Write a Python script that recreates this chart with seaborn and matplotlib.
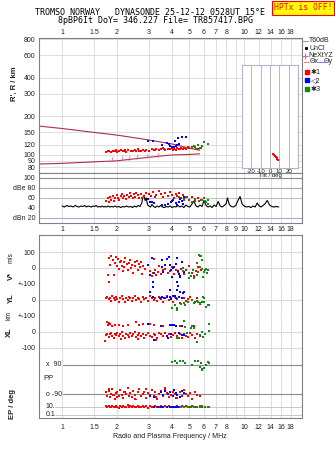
import numpy as np
import pandas as pd
import matplotlib
matplotlib.use('Agg')
import matplotlib.pyplot as plt
from matplotlib.ticker import NullLocator
import seaborn as sns

# ---------------- data ----------------
TOP_TICKS = [1, 1.5, 2, 3, 4, 5, 6, 7, 8, 10, 12, 14, 16, 18]
MID_TICKS = [1, 1.5, 2, 3, 4, 5, 6, 7, 8, 9, 10, 12, 14, 16, 18]
H_TICKS = [80, 90, 100, 120, 150, 200, 300, 400, 600, 800]
DB_TICKS = [100, 80, 60, 40, 20]
DB_LABELS = ['100', 'dBe 80', '60', '40', 'dBn 20']

THETA_X = [(0.75, 168), (1.0, 161), (1.5, 150), (2.0, 143), (3.0, 131), (4.0, 122), (5.0, 113), (5.7, 109)]
THETA_Y = [(0.75, 85), (1.0, 86), (2.0, 90), (3.0, 96), (4.0, 100), (5.0, 101), (5.7, 102)]
NEXTYZ = [(1.88, 93), (2.14, 94.2), (2.33, 94.7), (2.59, 96.5), (2.94, 97.7), (3.38, 100)]
UNCL = [(3.17, 106), (5.38, 109), (4.2, 117)]

H_RED = [(1.75, 106), (1.8, 107), (1.85, 105), (1.9, 108), (1.95, 107), (2.0, 106), (2.05, 108), (2.1, 109),
         (2.15, 107), (2.2, 108), (2.25, 106), (2.3, 110), (2.4, 108), (2.45, 107), (2.5, 109), (2.6, 111),
         (2.65, 108), (2.7, 107), (2.8, 110), (2.9, 109), (3.0, 108), (3.1, 111), (3.2, 110), (3.3, 112),
         (3.4, 109), (3.5, 111), (3.6, 113), (3.7, 110), (3.8, 112), (3.9, 111), (4.0, 113), (4.1, 112),
         (4.2, 110), (4.3, 113), (4.4, 112), (4.5, 114), (4.6, 111), (4.7, 113), (4.8, 112), (5.0, 114),
         (5.2, 113), (5.4, 115), (5.6, 112), (5.8, 113), (1.78, 108), (1.98, 109), (2.22, 110), (2.55, 107),
         (2.85, 108), (3.25, 109), (3.65, 111), (4.05, 110), (4.45, 111), (4.9, 115)]
H_BLUE = [(2.97, 128), (3.16, 128), (3.54, 120), (3.78, 124), (4.17, 128), (4.33, 136), (4.56, 138),
          (4.79, 139), (3.9, 118), (4.0, 116), (4.1, 115), (4.2, 117), (4.3, 120), (4.4, 121), (3.85, 121)]
H_GREEN = [(5.18, 115), (5.44, 111), (5.58, 120), (5.73, 113), (6.03, 126), (6.33, 122), (5.3, 117), (5.9, 118)]
TILT_RED = [(2.8, 101.8), (4.0, 100.0), (5.0, 98.5), (6.0, 97.0), (7.0, 95.0), (8.0, 93.0), (8.5, 91.4)]

NOISE = [(1.00, 44), (1.03, 42), (1.06, 45), (1.09, 43), (1.12, 44), (1.15, 42), (1.18, 45), (1.21, 43),
         (1.24, 42), (1.27, 44), (1.30, 43), (1.33, 45), (1.36, 42), (1.39, 44), (1.42, 43), (1.45, 42),
         (1.48, 44), (1.51, 43), (1.54, 45), (1.57, 42), (1.60, 43), (1.63, 42), (1.66, 44), (1.69, 42),
         (1.72, 43), (1.75, 42), (1.79, 44), (1.83, 42), (1.87, 43), (1.91, 42), (1.95, 44), (2.00, 42),
         (2.05, 43), (2.10, 41), (2.15, 43), (2.20, 42), (2.26, 44), (2.32, 42), (2.38, 43), (2.44, 41),
         (2.50, 44), (2.56, 42), (2.62, 45), (2.68, 43), (2.74, 50), (2.78, 62), (2.82, 66), (2.86, 55),
         (2.90, 60), (2.95, 46), (3.00, 44), (3.06, 42), (3.12, 47), (3.18, 43), (3.25, 41), (3.32, 44),
         (3.40, 42), (3.48, 45), (3.56, 42), (3.65, 41), (3.74, 43), (3.83, 42), (3.92, 44), (4.02, 41),
         (4.12, 43), (4.22, 42), (4.33, 45), (4.44, 42), (4.55, 44), (4.67, 41), (4.79, 46), (4.91, 43),
         (5.04, 42), (5.17, 48), (5.30, 54), (5.44, 44), (5.58, 42), (5.72, 46), (5.87, 43), (6.02, 55),
         (6.18, 45), (6.34, 42), (6.50, 44), (6.67, 41), (6.84, 46), (7.02, 43), (7.20, 53), (7.39, 44),
         (7.58, 42), (7.78, 45), (7.98, 49), (8.10, 60), (8.30, 47), (8.50, 43), (8.75, 42), (9.00, 45),
         (9.25, 55), (9.50, 63), (9.75, 48), (10.0, 44), (10.3, 42), (10.6, 43), (10.9, 41), (11.2, 44),
         (11.5, 42), (11.8, 50), (12.1, 44), (12.4, 42), (12.7, 45), (13.0, 48), (13.4, 55), (13.8, 46),
         (14.2, 43), (14.6, 42), (15.0, 43), (15.5, 42)]
DB_RED = [(1.75, 55), (1.78, 60), (1.8, 52), (1.83, 62), (1.86, 57), (1.9, 64), (1.93, 55), (1.96, 61),
          (2.0, 66), (2.03, 60), (2.06, 56), (2.1, 65), (2.13, 68), (2.16, 60), (2.2, 64), (2.24, 58),
          (2.28, 67), (2.32, 62), (2.36, 70), (2.4, 65), (2.44, 60), (2.48, 68), (2.52, 63), (2.56, 70),
          (2.6, 66), (2.65, 61), (2.7, 68), (2.75, 60), (2.82, 65), (2.9, 70), (3.0, 68), (3.08, 64),
          (3.15, 72), (3.22, 62), (3.3, 66), (3.4, 75), (3.5, 68), (3.6, 63), (3.7, 71), (3.8, 65),
          (3.9, 73), (4.0, 67), (4.1, 61), (4.2, 69), (4.3, 64), (4.4, 71), (4.5, 60), (4.6, 66),
          (4.7, 58), (4.85, 63), (5.0, 57), (5.2, 62), (5.4, 55), (5.6, 60), (5.8, 56)]
DB_BLUE = [(2.96, 59), (3.04, 53), (3.1, 53), (3.2, 50), (3.53, 47), (3.67, 46), (3.8, 49), (3.95, 53),
           (4.0, 54), (4.09, 56), (4.2, 50), (4.3, 47), (4.4, 52), (4.45, 59), (4.55, 55), (4.7, 63), (4.6, 49)]
DB_GREEN = [(4.37, 63), (4.7, 56), (4.8, 62), (5.15, 53), (5.35, 58), (5.65, 54), (5.9, 57), (6.1, 54),
            (6.3, 56), (6.3, 49), (6.0, 60), (6.2, 52)]

LOW_F = [1.74, 1.77, 1.8, 1.83, 1.86, 1.89, 1.92, 1.95, 1.98, 2.01, 2.05, 2.09, 2.13, 2.17, 2.21, 2.25,
         2.29, 2.33, 2.37, 2.41, 2.46, 2.51, 2.56, 2.61, 2.66, 2.71, 2.77, 2.83, 2.9, 2.97, 3.04, 3.11,
         3.18, 3.25, 3.33, 3.41, 3.5, 3.59, 3.68, 3.77, 3.87, 3.97, 4.08, 4.19, 4.3, 4.42, 4.54, 4.66,
         4.79, 4.92, 5.06, 5.2, 5.35, 5.5, 5.7]

V_RED = [(1.78, -45), (1.80, 65), (1.82, -88), (1.84, 20), (1.86, 75), (1.90, 50), (1.92, -45), (1.95, 30),
         (1.98, 70), (2.00, 10), (2.03, 55), (2.05, -5), (2.08, 35), (2.10, 45), (2.13, 15), (2.15, -20),
         (2.18, 40), (2.20, 5), (2.23, 60), (2.26, 25), (2.30, -10), (2.33, 30), (2.36, 50), (2.40, 0),
         (2.43, 20), (2.46, -30), (2.50, 35), (2.53, 10), (2.57, 45), (2.60, -15), (2.64, 25), (2.68, 5),
         (2.72, 40), (2.76, -40), (2.80, 15), (2.85, -5), (3.05, -20), (3.10, -50), (3.15, -30), (3.20, 55),
         (3.25, -10), (3.30, -45), (3.35, -25), (3.40, 10), (3.50, -35), (3.60, -15), (3.70, -5), (3.80, -30),
         (3.90, -20), (4.00, 5), (4.10, -40), (4.20, -10), (4.35, -25), (4.50, -5), (4.65, -35), (4.80, -15),
         (5.00, 15), (5.15, -30), (5.30, -50), (5.45, -20), (5.60, 5), (5.80, -10)]
V_BLUE = [(2.96, 19), (3.04, -44), (3.1, 63), (3.17, -85), (3.2, -31), (3.53, 8), (3.53, 50), (3.67, 17),
          (3.75, 56), (3.85, 70), (3.93, 17), (3.97, -12), (4.02, -58), (4.09, -2), (4.13, 8), (4.25, 25),
          (4.27, 60), (4.35, -17), (4.45, -50), (4.45, -54), (4.58, 40), (4.68, -25), (4.4, -35), (4.3, -85),
          (3.6, -25)]
V_GREEN = [(4.6, 0), (4.6, -21), (4.95, -33), (5.1, -52), (5.26, -12), (5.28, -60), (5.5, -44), (5.5, 29),
           (5.58, -23), (5.67, 81), (5.73, 77), (5.74, 8), (5.8, 73), (5.85, 52), (5.9, -4), (6.0, -25),
           (6.1, -10), (6.2, -4), (6.35, -12), (5.95, -54), (4.95, -65), (6.25, -33)]

YL_RED = [10, 20, 5, 15, -5, 25, 10, 0, 18, 8, -10, 12, 22, 5, -15, 15, 2, 20, 10, -5, 12, 25, 0, 15, 8,
          -12, 18, 5, 10, -8, 22, 12, 0, 15, -5, 20, 8, -15, 10, 25, 0, 12, -10, 18, 5, -20, 10, 15, -5, 8,
          20, 0, -15, 10, -25]
YL_BLUE = [(3.04, 52), (3.17, 21), (3.45, 15), (3.53, 21), (3.65, 12), (3.75, 20), (3.9, 18), (3.95, 5),
           (4.05, 25), (4.15, 28), (4.25, 10), (4.3, 60), (4.4, 20), (4.45, 52), (4.55, 15), (4.65, 52),
           (3.15, 80), (3.9, 65), (4.35, 85), (4.6, 45)]
YL_GREEN = [(4.0, -52), (4.27, -62), (4.17, -31), (4.3, -50), (4.53, -25), (4.69, -21), (4.75, -31),
            (5.15, 0), (5.3, -21), (5.5, -4), (5.75, -18), (5.9, -10), (5.98, 21), (6.05, -10), (6.35, -31),
            (6.44, -31), (6.0, 10), (5.6, -12), (4.9, -15), (6.2, -45)]

XL_RED = [-20, -10, -30, -15, -5, -25, -35, -12, -20, -8, -28, -15, -3, -22, -40, -10, -18, -30, -6, -25,
          -14, -2, -32, -18, -9, -26, -12, -38, -16, -4, -22, -30, -10, -20, -35, -8, -15, -28, -5, -24,
          -12, -33, -18, -6, -27, -14, -40, -10, -22, -30, -8, -18, -35, -12, -25]
XL_RED_EXTRA = [(1.76, 64), (1.78, 45), (1.8, 55), (1.84, 48), (1.88, 40), (1.95, 44), (2.05, 42),
                (2.15, 38), (2.3, 45), (2.55, 60), (2.65, 42), (2.8, 48), (3.05, 50), (3.2, 42), (3.6, 38),
                (4.45, 35), (5.3, 38), (1.72, -55), (2.1, -45), (3.3, -48), (2.6, -42)]
XL_BLUE = [(2.98, 50), (3.18, -50), (3.5, 40), (3.75, -25), (3.8, -40), (3.9, 44), (4.0, 46), (4.1, 44),
           (4.3, -35), (4.55, 35), (4.55, -19), (4.2, 40), (3.95, -10), (4.4, -5), (4.7, -20)]
XL_GREEN = [(4.67, 71), (4.75, 33), (5.1, 23), (5.3, 28), (5.75, -19), (5.95, -29), (5.5, -60), (4.3, -35),
            (4.4, -40), (6.45, 52), (6.45, 8), (5.85, 0), (4.85, -5), (5.2, 40), (6.1, -15)]

PP_RED = [-80, -100, -70, -110, -90, -60, -95, -120, -85, -75, -105, -65, -95, -115, -80, -90, -55, -100,
          -85, -110, -70, -95, -125, -80, -60, -100, -90, -75, -115, -85, -95, -65, -105, -80, -120, -90,
          -70, -100, -60, -85, -110, -95, -75, -90, -115, -80, -100, -65, -90, -105, -85, -120, -75, -95, -100]
PP_RED_EXTRA = [(1.8, -60), (2.0, -110), (2.3, -55), (2.5, -120), (2.9, -60), (3.3, -110), (3.7, -55),
                (4.2, -115), (1.9, -95), (2.2, -80)]
PP_BLUE = [(3.04, -100), (3.2, -110), (3.5, -75), (3.67, -70), (3.8, -90), (3.93, -80), (4.05, -100),
           (4.13, -65), (4.3, -95), (4.45, -110), (4.58, -70), (4.7, -85), (3.6, -95), (4.2, -85)]
PP_GREEN = [(4.0, 110), (4.17, 115), (4.3, 105), (4.45, 117), (4.64, 115), (4.75, 103), (5.15, 90),
            (5.35, 115), (5.55, 115), (5.6, 117), (5.8, 100), (5.75, 80), (5.9, 65), (6.0, 70), (6.2, 90),
            (6.35, 110), (6.45, 104), (5.85, 61)]

EP_RED = [12, 8, 15, 10, 9, 18, 11, 7, 14, 10, 6, 13, 9, 16, 11, 8, 20, 10, 12, 7, 15, 9, 11, 14, 8, 10,
          17, 9, 12, 6, 13, 10, 8, 15, 11, 9, 12, 7, 14, 10, 16, 9, 11, 8, 13, 10, 12, 7, 15, 9, 11, 14, 8,
          10, 12]
EP_RED_EXTRA = [(5.9, 10), (6.1, 9), (6.3, 11)]
EP_BLUE = [(3.2, 9), (3.35, 8), (3.5, 7), (3.6, 9), (3.75, 8), (3.9, 10), (4.0, 7), (4.1, 9), (4.2, 8),
           (4.35, 10), (4.5, 7), (4.65, 9)]
EP_GREEN = [(4.5, 9), (4.7, 10), (4.9, 8), (5.1, 10), (5.3, 9), (5.5, 11), (5.75, 10), (5.9, 12),
            (6.1, 9), (6.3, 11), (6.45, 10)]

# ---------------- style ----------------
sns.set_style('white')
plt.rcParams['font.family'] = ['Liberation Sans', 'DejaVu Sans']

RED, BLUE, GREEN = '#ff0000', '#0000ff', '#108a10'
GRID = '#d8d8d8'
SPINE = '#808080'
TXT = '#202020'
W, H = 335, 451
FLO, FHI = 0.747, 20.8
MS = 4.6

fig = plt.figure(figsize=(W / 100, H / 100), dpi=100)


def pax(x0, y0, x1, y1, z=1):
    return fig.add_axes([x0 / W, 1 - y1 / H, (x1 - x0) / W, (y1 - y0) / H], zorder=z)


def base(ax, spines=('left', 'right', 'top', 'bottom')):
    ax.set_xscale('log')
    ax.set_xlim(FLO, FHI)
    ax.xaxis.set_minor_locator(NullLocator())
    ax.set_xticks([])
    for s in ax.spines:
        ax.spines[s].set_visible(s in spines)
        ax.spines[s].set_color(SPINE)
        ax.spines[s].set_linewidth(0.8)
    for f in MID_TICKS:
        ax.axvline(f, color=GRID, lw=0.6, zorder=0)
    ax.tick_params(axis='both', length=0, labelsize=5, colors=TXT, pad=2.5)
    ax.set_facecolor('white')


def pts(ax, pairs, color, s=MS, marker='s'):
    df = pd.DataFrame(pairs, columns=['f', 'v'])
    sns.scatterplot(data=df, x='f', y='v', ax=ax, color=color, marker=marker, s=s,
                    linewidth=0, legend=False, zorder=3, clip_on=False)
    ax.set_xlabel('')
    ax.set_ylabel('')


# ---------- height panel ----------
axh = pax(39, 38, 302, 173)
base(axh)
axh.set_yscale('log')
axh.set_ylim(72.3, 820)
axh.yaxis.set_minor_locator(NullLocator())
axh.set_yticks(H_TICKS)
axh.set_yticklabels([str(t) for t in H_TICKS])
for t in H_TICKS:
    axh.axhline(t, color=GRID, lw=0.6, zorder=0)
axh.xaxis.tick_top()
axh.set_xticks(TOP_TICKS)
axh.set_xticklabels([f'{t:g}' for t in TOP_TICKS])
axh.tick_params(axis='x', pad=1.5)
for d in (THETA_X, THETA_Y):
    df = pd.DataFrame(d, columns=['f', 'h'])
    sns.lineplot(data=df, x='f', y='h', ax=axh, color='#a8304c', lw=0.8, sort=False, estimator=None, zorder=2)
pts(axh, H_RED, RED)
pts(axh, H_BLUE, BLUE)
pts(axh, H_GREEN, GREEN)
pts(axh, NEXTYZ, '#e0609a', s=14, marker='$I$')
pts(axh, UNCL, 'black', s=10, marker='x')
axh.set_xlabel('')
axh.set_ylabel('')

# tilt inset
axt = pax(242, 65, 298, 168, z=3)
axt.set_yscale('log')
axt.set_ylim(79.1, 505)
axt.set_xlim(-30, 30)
axt.set_yticks([])
axt.yaxis.set_minor_locator(NullLocator())
for s in axt.spines.values():
    s.set_color('#b4b4cc')
    s.set_linewidth(0.8)
for t in (-20, -10, 0, 10, 20):
    axt.axvline(t, color='#b4b4cc', lw=0.7, zorder=0)
axt.set_xticks([-20, -10, 0, 10, 20])
axt.set_xticklabels(['-20', '-10', '0', '10', '20'])
axt.tick_params(axis='x', length=0, labelsize=4.3, pad=0.5, colors=TXT)
df = pd.DataFrame(TILT_RED, columns=['t', 'h'])
sns.scatterplot(data=df, x='t', y='h', ax=axt, color=RED, marker='s', s=MS, linewidth=0, legend=False)
axt.set_ylabel('')
axt.set_xlabel('Tilt / deg', fontsize=4.3, labelpad=-0.5, color=TXT)

# ---------- dB panel ----------
axd = pax(39, 173, 302, 223)
base(axd)
axd.set_ylim(10, 110)
axd.set_yticks(DB_TICKS)
axd.set_yticklabels(DB_LABELS)
axd.axhline(100, color='#8a8a8a', lw=0.8, zorder=1)
axd.axhline(80, color='#a8a8a8', lw=0.8, zorder=1)
axd.axhline(60, color='#c0c0c0', lw=0.8, zorder=1)
axd.axhline(20, color='#a8a8e0', lw=0.8, zorder=1)
axd.set_xticks(MID_TICKS)
axd.set_xticklabels([f'{t:g}' for t in MID_TICKS])
axd.tick_params(axis='x', pad=2)
dfn = pd.DataFrame(NOISE, columns=['f', 'db'])
sns.lineplot(data=dfn, x='f', y='db', ax=axd, color='black', lw=0.8, sort=False, estimator=None, zorder=2)
pts(axd, DB_RED, RED)
pts(axd, DB_BLUE, BLUE)
pts(axd, DB_GREEN, GREEN)
axd.set_xlabel('')
axd.set_ylabel('')

# ---------- lower panel ----------
axv = pax(39, 235, 302, 284)
base(axv, ('left', 'right', 'top'))
axv.set_ylim(-100, 206.25)
axv.set_yticks([100, 0, -100])
axv.set_yticklabels(['100', '0', '+-100'])
for t in (100, 0, -100):
    axv.axhline(t, color=GRID, lw=0.7, zorder=0)
pts(axv, V_RED, RED)
pts(axv, V_BLUE, BLUE)
pts(axv, V_GREEN, GREEN)

axy = pax(39, 284, 302, 316)
base(axy, ('left', 'right'))
axy.set_ylim(-100, 100)
axy.set_yticks([0, -100])
axy.set_yticklabels(['0', '+-100'])
for t in (0, -100):
    axy.axhline(t, color=GRID, lw=0.7, zorder=0)
pts(axy, list(zip(LOW_F, YL_RED)), RED)
pts(axy, YL_BLUE, BLUE)
pts(axy, YL_GREEN, GREEN)

axx = pax(39, 316, 302, 356)
base(axx, ('left', 'right'))
axx.set_ylim(-150, 100)
axx.set_yticks([0, -100])
axx.set_yticklabels(['0', '-100'])
for t in (0, -100):
    axx.axhline(t, color=GRID, lw=0.7, zorder=0)
pts(axx, list(zip(LOW_F, XL_RED)) + XL_RED_EXTRA, RED)
pts(axx, XL_BLUE, BLUE)
pts(axx, XL_GREEN, GREEN)

axp = pax(39, 356, 302, 400)
base(axp, ('left', 'right'))
axp.set_ylim(-127.2, 145.9)
axp.set_yticks([])
for t in (90, -90):
    axp.axhline(t, xmin=0.092, xmax=1, color='#8a8a8a', lw=0.8, zorder=1)
pts(axp, list(zip(LOW_F, PP_RED)) + PP_RED_EXTRA, RED)
pts(axp, PP_BLUE, BLUE)
pts(axp, PP_GREEN, GREEN)

axe = pax(39, 400, 302, 418)
base(axe, ('left', 'right', 'bottom'))
axe.set_yscale('log')
axe.set_ylim(0.019, 411)
axe.yaxis.set_minor_locator(NullLocator())
axe.set_yticks([])
for t in (10, 0.1):
    axe.axhline(t, xmin=0.062, xmax=1, color='#c8c8c8', lw=0.7, zorder=0)
pts(axe, list(zip(LOW_F, EP_RED)) + EP_RED_EXTRA, RED)
pts(axe, EP_BLUE, BLUE)
pts(axe, EP_GREEN, GREEN)
axe.set_xticks(TOP_TICKS)
axe.set_xticklabels([f'{t:g}' for t in TOP_TICKS])
axe.tick_params(axis='x', pad=4)

# ---------- overlay for free text / legend ----------
ov = fig.add_axes([0, 0, 1, 1], zorder=10)
ov.set_xlim(0, W)
ov.set_ylim(H, 0)
ov.axis('off')
ov.patch.set_alpha(0)

mono = 'DejaVu Sans Mono'
ov.text(150, 12.5, 'TROMSO NORWAY   DYNASONDE 25-12-12 0528UT 15\u00b0E', family=mono, fontsize=6,
        ha='center', va='center', color='black')
ov.text(155, 20.5, '8pBP6It DoY= 346.227 File= TR857417.BPG', family=mono, fontsize=6,
        ha='center', va='center', color='black')
ov.text(303, 8, 'HPTx is OFF!', family=mono, fontsize=5.8, ha='center', va='center', color='#ff0000',
        bbox=dict(boxstyle='square,pad=0.25', fc='#ffff00', ec='#ff0000', lw=0.8))

lab = dict(fontsize=5.5, fontweight='bold', color=TXT, rotation=90, ha='center', va='center')
ov.text(14, 84, "R', R / km", **lab)
ov.text(11, 276, 'V*', **lab)
ov.text(11, 258, 'm/s', fontsize=4.8, color=TXT, rotation=90, ha='center', va='center')
ov.text(11, 298, 'YL', **lab)
ov.text(9, 315, 'km', fontsize=4.8, color=TXT, rotation=90, ha='center', va='center')
ov.text(9, 332, 'XL', **lab)
ov.text(13, 404, 'EP / deg', **lab)
inner = dict(fontsize=5, color=TXT, ha='left', va='center')
ov.text(46.5, 365, 'x  90', **inner)
ov.text(43, 379, 'PP', fontsize=5.5, color=TXT, ha='left', va='center')
ov.text(46, 394, 'o -90', **inner)
ov.text(45, 407, '10.', **inner)
ov.text(46, 415, '0.1', **inner)
ov.text(170, 437, 'Radio and Plasma Frequency / MHz', fontsize=5, color=TXT, ha='center', va='center')

# legend
lg = dict(fontsize=5, color=TXT, ha='left', va='center')
ov.plot([302.5, 308], [40.7, 40.7], color='#a0a0a0', lw=0.8)
ov.text(309, 40.7, 'T60dB', **lg)
ov.plot([306], [48.3], marker='s', ms=1.2, color='black', lw=0)
ov.text(310, 48.3, 'UnCl', **lg)
ov.plot([304.5], [55.7], marker='+', ms=4, mew=0.8, color='#e0609a', lw=0)
ov.text(308, 55.7, 'NeXtYZ', **lg)
ov.plot([303.5, 309], [61.7, 61.7], color='#f08080', lw=0.8)
ov.text(309.5, 61.7, '\u0398x', **lg)
ov.plot([318, 323.5], [61.7, 61.7], color='#8080f0', lw=0.8)
ov.text(324, 61.7, '\u0398y', **lg)
for yy, c, s in ((71.7, RED, '\u27311'), (80, BLUE, '\u25c12'), (89, GREEN, '\u27313')):
    ov.plot([306.5], [yy], marker='s', ms=2.2, color=c, lw=0)
    ov.text(311, yy, s, fontsize=5, color=TXT, ha='left', va='center', family=['DejaVu Sans'])

fig.savefig('out.png', dpi=100)
